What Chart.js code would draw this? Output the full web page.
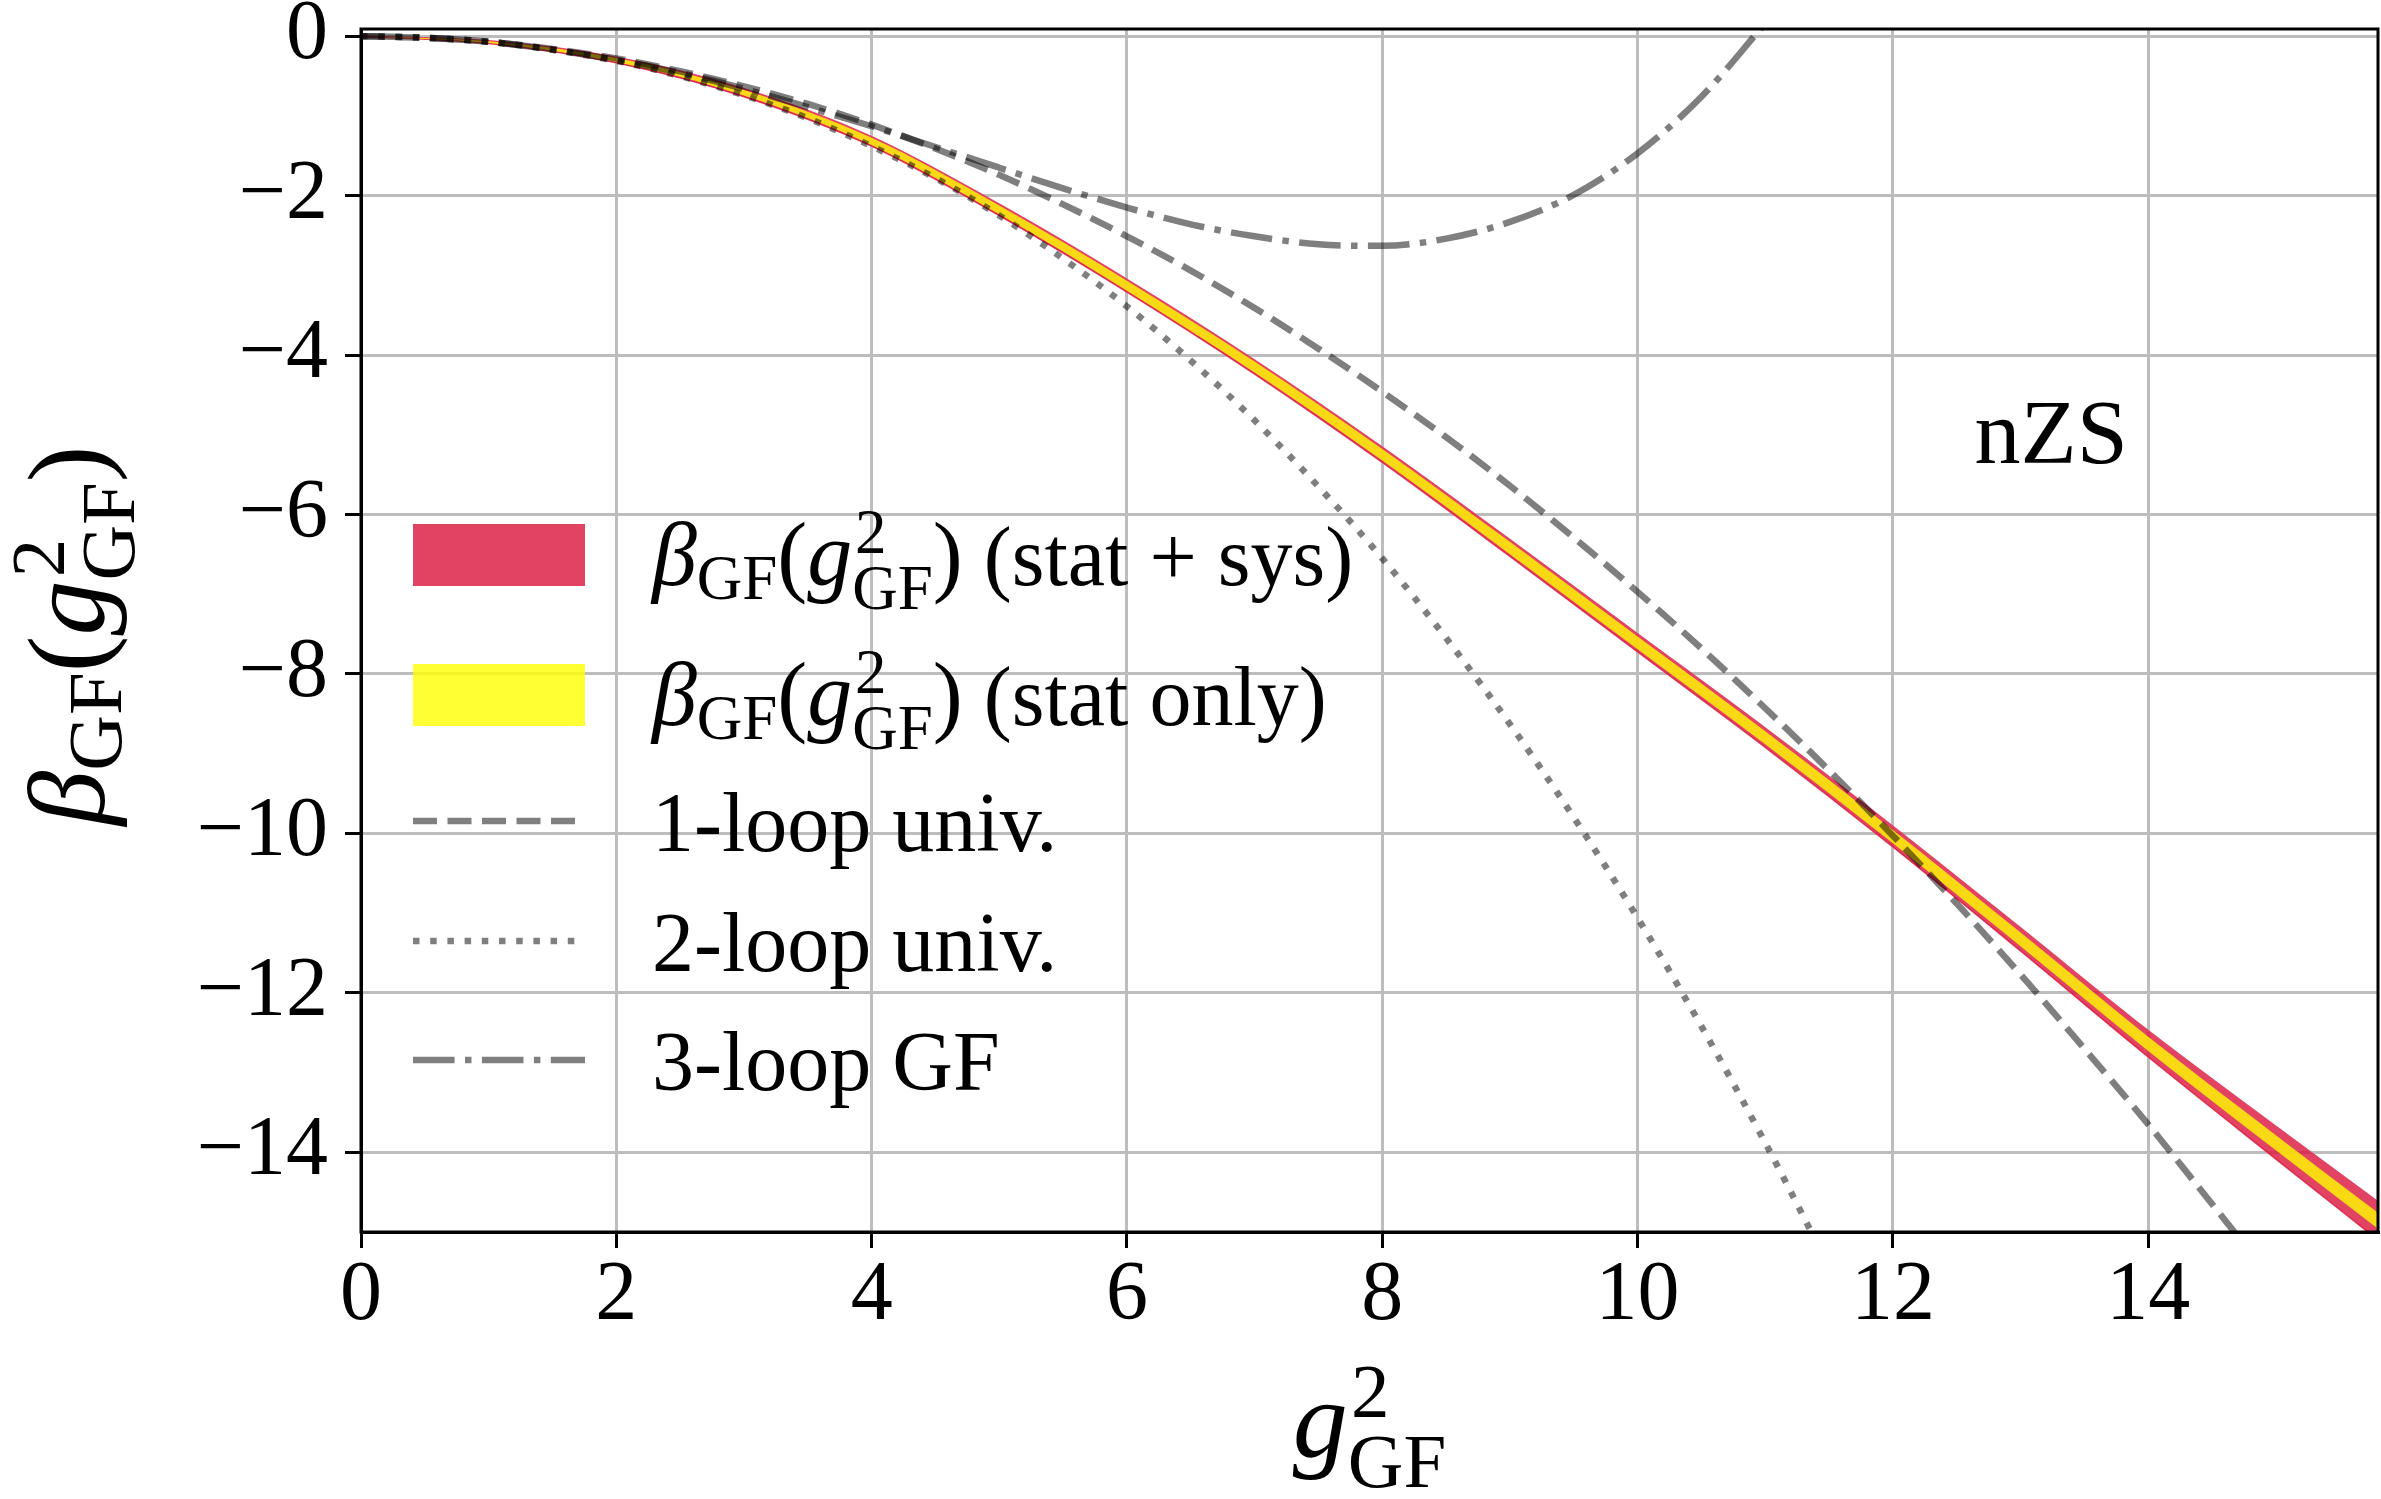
<!DOCTYPE html>
<html>
<head>
<meta charset="utf-8">
<title>Gradient-flow beta function, nZS</title>
<script src="https://cdn.jsdelivr.net/npm/chart.js@4/dist/chart.umd.min.js"></script>
<style>
  html, body { margin: 0; padding: 0; background: #ffffff; overflow: hidden; }
  canvas { display: block; }
</style>
</head>
<body>
<canvas id="beta" width="2381" height="1499"></canvas>
<script>
// ---- data -----------------------------------------------------------------
// non-perturbative beta function: central value and error half-widths
const g2Band      = [0, 1, 2, 3, 4, 5, 6, 7, 8, 9, 10, 11, 12, 13, 14, 15, 15.8];
const betaCentral = [0, -0.075, -0.30, -0.71, -1.32, -2.18, -3.13, -4.15, -5.25, -6.42, -7.61, -8.80, -10.04, -11.33, -12.64, -13.88, -14.86];
const errStat     = [0, 0.012, 0.025, 0.035, 0.045, 0.055, 0.062, 0.068, 0.073, 0.077, 0.08, 0.082, 0.084, 0.087, 0.09, 0.095, 0.10];
const errStatSys  = [0, 0.018, 0.035, 0.05, 0.06, 0.072, 0.08, 0.088, 0.096, 0.105, 0.113, 0.12, 0.13, 0.145, 0.165, 0.205, 0.24];

// perturbative curves
const oneLoopX = [0, 0.5, 1, 1.5, 2, 2.5, 3, 3.5, 4, 4.5, 5, 5.5, 6, 6.5, 7, 7.5, 8, 8.5, 9, 9.5, 10, 10.5, 11, 11.5, 12, 12.5, 13, 13.5, 14, 14.5, 14.7];
const oneLoopY = [0, -0.02, -0.07, -0.16, -0.28, -0.44, -0.63, -0.85, -1.11, -1.41, -1.74, -2.11, -2.51, -2.94, -3.41, -3.92, -4.46, -5.03, -5.64, -6.29, -6.97, -7.68, -8.43, -9.21, -10.03, -10.88, -11.77, -12.70, -13.65, -14.65, -15.05];

const twoLoopX = [0, 0.5, 1, 1.5, 2, 2.5, 3, 3.5, 4, 4.5, 5, 5.5, 6, 6.5, 7, 7.5, 8, 8.5, 9, 9.5, 10, 10.5, 11, 11.4];
const twoLoopY = [0, -0.02, -0.07, -0.17, -0.31, -0.50, -0.74, -1.03, -1.38, -1.78, -2.25, -2.79, -3.39, -4.07, -4.82, -5.65, -6.55, -7.55, -8.63, -9.80, -11.06, -12.42, -13.88, -15.12];

const threeLoopX = [0, 0.5, 1, 1.5, 2, 2.5, 3, 3.5, 4, 4.5, 5, 5.5, 6, 6.5, 7, 7.5, 8, 8.5, 9, 9.5, 10, 10.5, 11];
const threeLoopY = [0, -0.02, -0.07, -0.17, -0.30, -0.46, -0.66, -0.89, -1.13, -1.39, -1.65, -1.91, -2.15, -2.36, -2.51, -2.61, -2.63, -2.54, -2.33, -1.99, -1.47, -0.76, 0.16];

// axes
const xTicks = [0, 2, 4, 6, 8, 10, 12, 14];
const yTicks = [0, -2, -4, -6, -8, -10, -12, -14];
const xRange = [0, 15.8];
const yRange = [-15, 0.09];

// ---- styles ---------------------------------------------------------------
const SERIF = '"Liberation Serif", "Times New Roman", serif';
const TEXT_SIZE = 84;    // plain text: tick labels, legend words
const MATH_SIZE = 90;    // math symbols in the legend
const LABEL_SIZE = 110;  // axis titles
const TAG_SIZE = 92;
const RED = 'rgba(220,20,60,0.8)';
const RED_EDGE = 'rgb(227,67,99)';
const YELLOW = 'rgba(255,255,0,0.8)';
const PERT = 'rgba(0,0,0,0.5)';
const LW = 6.5;
const DASHED = [24, 10.5];
const DOTTED = [6.5, 10.7];
const DASHDOT = [41.6, 10.4, 6.5, 10.4];

const pts = (xs, ys) => xs.map((x, i) => ({ x: x, y: ys[i] }));
const shift = (ys, es, sign) => ys.map((y, i) => y + sign * es[i]);

// math labels: beta_GF(g^2_GF)
const betaLabel = [
  { t: '\u03B2', it: true }, { sub: 'GF' }, { t: '(' }, { t: 'g', it: true }, { sup: '2', sub: 'GF' }, { t: ')' }
];
const g2Label = [{ t: 'g', it: true }, { sup: '2', sub: 'GF' }];

const legendRows = [
  { kind: 'patch', color: RED,    math: betaLabel, text: ' (stat + sys)' },
  { kind: 'patch', color: YELLOW, math: betaLabel, text: ' (stat only)' },
  { kind: 'line',  dash: DASHED,  text: '1-loop univ.' },
  { kind: 'line',  dash: DOTTED,  text: '2-loop univ.' },
  { kind: 'line',  dash: DASHDOT, text: '3-loop GF' }
];
const legendRowCenters = [526, 666, 792, 912, 1031]; // offsets below the plot top

// ---- math text helper -------------------------------------------------------
function fontOf(italic, size) {
  return (italic ? 'italic ' : '') + size + 'px ' + SERIF;
}
function layoutMath(ctx, parts, size) {
  let x = 0;
  const items = [];
  const small = size * 0.7;
  for (const p of parts) {
    if (p.t !== undefined) {
      const f = fontOf(p.it, size);
      ctx.font = f;
      items.push({ text: p.t, font: f, dx: x, dy: 0 });
      x += ctx.measureText(p.t).width;
    } else {
      const f = fontOf(false, small);
      ctx.font = f;
      let w = 0;
      if (p.sup) {
        const kern = size * 0.03;
        items.push({ text: p.sup, font: f, dx: x + kern, dy: -size * 0.36 });
        w = Math.max(w, ctx.measureText(p.sup).width + kern);
      }
      if (p.sub) {
        items.push({ text: p.sub, font: f, dx: x, dy: size * (p.sup ? 0.27 : 0.15) });
        w = Math.max(w, ctx.measureText(p.sub).width);
      }
      x += w;
    }
  }
  return { items: items, width: x };
}
function drawMath(ctx, parts, x, y, size) {
  const lay = layoutMath(ctx, parts, size);
  for (const it of lay.items) {
    ctx.font = it.font;
    ctx.fillText(it.text, x + it.dx, y + it.dy);
  }
  return lay.width;
}

// ---- decorations: frame, legend, axis titles, panel tag ---------------------
const decorations = {
  id: 'decorations',
  afterDraw(chart) {
    const ctx = chart.ctx;
    const a = chart.chartArea;
    const xs = chart.scales.x, ys = chart.scales.y;
    ctx.save();

    // frame
    ctx.strokeStyle = '#000';
    ctx.lineWidth = 3;
    ctx.setLineDash([]);
    ctx.strokeRect(a.left, a.top, a.right - a.left, a.bottom - a.top);

    ctx.fillStyle = '#000';
    ctx.textAlign = 'left';
    ctx.textBaseline = 'alphabetic';

    // legend
    const sx0 = a.left + 52, sx1 = a.left + 224, tx = a.left + 291;
    legendRows.forEach((row, i) => {
      const cy = a.top + legendRowCenters[i];
      if (row.kind === 'patch') {
        ctx.fillStyle = row.color;
        ctx.fillRect(sx0, cy - 31, sx1 - sx0, 62);
      } else {
        ctx.strokeStyle = PERT;
        ctx.lineWidth = LW;
        ctx.lineCap = 'butt';
        ctx.setLineDash(row.dash);
        ctx.beginPath();
        ctx.moveTo(sx0, cy);
        ctx.lineTo(sx1, cy);
        ctx.stroke();
        ctx.setLineDash([]);
      }
      ctx.fillStyle = '#000';
      const base = cy + 30;
      let x = tx;
      if (row.math) x += drawMath(ctx, row.math, x, base, MATH_SIZE);
      ctx.font = fontOf(false, TEXT_SIZE);
      ctx.fillText(row.text, x, base);
    });

    // panel tag
    ctx.font = fontOf(false, TAG_SIZE);
    ctx.fillText('nZS', xs.getPixelForValue(12.64), ys.getPixelForValue(-5.35));

    // x-axis title
    const gl = layoutMath(ctx, g2Label, LABEL_SIZE);
    drawMath(ctx, g2Label, (a.left + a.right) / 2 - gl.width / 2, 1457, LABEL_SIZE);

    // y-axis title (rotated)
    const bl = layoutMath(ctx, betaLabel, LABEL_SIZE);
    ctx.translate(104, (a.top + a.bottom) / 2 + 5);
    ctx.rotate(-Math.PI / 2);
    drawMath(ctx, betaLabel, -bl.width / 2, 0, LABEL_SIZE);

    ctx.restore();
  }
};

// ---- chart ------------------------------------------------------------------
const common = { pointRadius: 0, pointHoverRadius: 0, cubicInterpolationMode: 'monotone', clip: 0 };

new Chart(document.getElementById('beta'), {
  type: 'line',
  data: {
    datasets: [
      Object.assign({ label: '3-loop GF', data: pts(threeLoopX, threeLoopY), borderColor: PERT, borderWidth: LW,
        borderDash: DASHDOT, borderCapStyle: 'butt', fill: false }, common),
      Object.assign({ label: '2-loop univ.', data: pts(twoLoopX, twoLoopY), borderColor: PERT, borderWidth: LW,
        borderDash: DOTTED, borderCapStyle: 'butt', fill: false }, common),
      Object.assign({ label: '1-loop univ.', data: pts(oneLoopX, oneLoopY), borderColor: PERT, borderWidth: LW,
        borderDash: DASHED, borderCapStyle: 'butt', fill: false }, common),
      Object.assign({ label: 'stat upper', data: pts(g2Band, shift(betaCentral, errStat, 1)), borderWidth: 0,
        borderColor: 'rgba(0,0,0,0)', backgroundColor: YELLOW, fill: '+1' }, common),
      Object.assign({ label: 'stat lower', data: pts(g2Band, shift(betaCentral, errStat, -1)), borderWidth: 0,
        borderColor: 'rgba(0,0,0,0)', fill: false }, common),
      Object.assign({ label: 'stat+sys upper', data: pts(g2Band, shift(betaCentral, errStatSys, 1)), borderWidth: 1.5,
        borderColor: RED_EDGE, backgroundColor: RED, fill: '+1' }, common),
      Object.assign({ label: 'stat+sys lower', data: pts(g2Band, shift(betaCentral, errStatSys, -1)), borderWidth: 1.5,
        borderColor: RED_EDGE, fill: false }, common)
    ]
  },
  options: {
    responsive: false,
    animation: false,
    devicePixelRatio: 1,
    events: [],
    layout: { padding: { top: 29, right: 3, left: 0, bottom: 0 } },
    plugins: { legend: { display: false }, tooltip: { enabled: false } },
    scales: {
      x: {
        type: 'linear',
        min: xRange[0], max: xRange[1],
        afterBuildTicks: s => { s.ticks = xTicks.map(v => ({ value: v })); },
        afterFit: s => { s.height = 267; s.paddingLeft = 0; s.paddingRight = 0; },
        grid: { color: '#bdbdbd', lineWidth: 3, drawTicks: true, tickLength: 16, tickColor: '#000', tickWidth: 3 },
        border: { display: true, color: '#000', width: 3 },
        ticks: { color: '#000', padding: 7, maxRotation: 0, font: { family: SERIF, size: TEXT_SIZE, lineHeight: 1 },
          callback: v => String(v) }
      },
      y: {
        type: 'linear',
        min: yRange[0], max: yRange[1],
        afterBuildTicks: s => { s.ticks = yTicks.map(v => ({ value: v })); },
        afterFit: s => { s.width = 361; s.paddingTop = 0; s.paddingBottom = 0; },
        grid: { color: '#bdbdbd', lineWidth: 3, drawTicks: true, tickLength: 16, tickColor: '#000', tickWidth: 3 },
        border: { display: true, color: '#000', width: 3 },
        ticks: { color: '#000', padding: 17, font: { family: SERIF, size: TEXT_SIZE, lineHeight: 1 },
          callback: v => (v < 0 ? '\u2212' + Math.abs(v) : String(v)) }
      }
    }
  },
  plugins: [decorations]
});
</script>
</body>
</html>
